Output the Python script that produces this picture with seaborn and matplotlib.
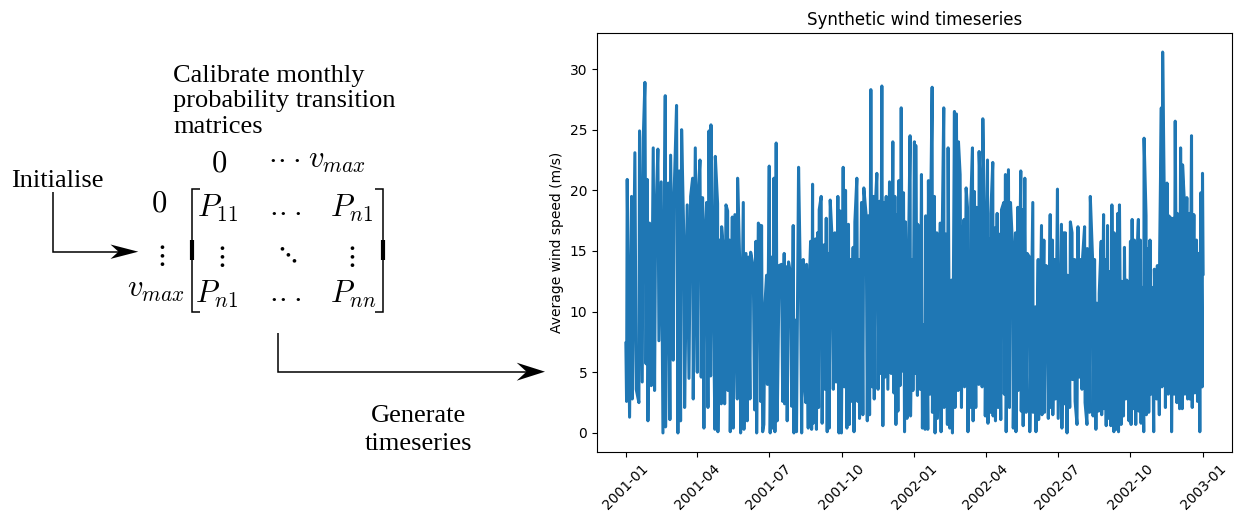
import matplotlib
matplotlib.use("Agg")
import numpy as np
import pandas as pd
import matplotlib.pyplot as plt
import matplotlib.dates as mdates
from matplotlib.patches import Polygon
import seaborn as sns

# ---------------- data ----------------
start_date = "2001-01-01"
title = "Synthetic wind timeseries"
ylabel = "Average wind speed (m/s)"
tick_months = [1, 4, 7, 10]

# local maxima of the hourly series: days since start, speed (m/s)
peak_day = [1.7, 7.2, 11.4, 17.3, 22.0, 24.1, 27.0, 30.0, 34.6, 37.6, 40.5, 44.7, 49.8, 53.6, 56.6, 60.8,
            64.1, 67.5, 70.5, 73.4, 77.6, 81.9, 84.4, 87.8, 91.1, 93.7, 97.0, 100.0, 102.1, 105.1, 107.6,
            109.7, 113.1, 116.0, 118.5, 121.1, 124.0, 126.6, 128.7, 131.2, 134.6, 137.9, 141.3, 144.3,
            148.5, 151.9, 154.8, 157.8, 161.1, 164.5, 167.5, 169.6,
            171.6, 175.8, 177.9, 181.3, 184.6, 187.2, 190.1, 193.9, 196.9, 200.2, 203.2, 205.7, 208.3,
            211.6, 214.6, 218.4, 220.9, 224.3, 228.5, 231.4, 233.6, 236.1, 239.9, 242.4, 244.5, 247.0,
            250.4, 253.4, 255.9, 258.4, 260.5, 264.3, 268.1, 271.0, 274.8, 277.8, 281.5, 283.7, 287.4,
            289.6, 292.1, 294.6, 298.0, 300.9, 303.9, 306.8, 309.8, 313.2, 314.9, 317.4, 320.8, 323.7,
            326.2, 329.2, 333.4, 337.6, 340.2, 342.7, 345.2, 348.2, 351.1, 353.6, 357.5,
            359.4, 362.4, 364.9, 366.6, 369.1, 371.6, 373.8, 376.3, 379.2, 382.6, 385.1, 387.3, 390.2,
            393.2, 397.4, 399.5, 402.0, 404.5, 407.5, 411.7, 415.5, 418.0, 420.6, 422.7, 425.6, 427.7,
            430.3, 432.0, 434.1, 436.2, 438.3, 440.8, 443.3, 446.7, 448.8, 451.4, 453.9, 457.3, 459.4,
            461.5, 464.0, 466.6, 469.5, 471.6, 475.0, 477.9, 480.0, 483.8, 486.4, 489.3, 492.7, 495.6,
            499.4, 502.0, 504.5, 507.5, 510.4, 514.6, 518.0, 521.4, 525.6, 528.6, 531.5, 533.6, 536.6,
            539.5, 542.0, 545.8,
            550.8, 553.7, 555.8, 558.7, 562.1, 564.2, 567.5, 571.7, 575.1, 577.6, 580.1, 583.5, 587.3,
            590.2, 592.7, 595.7, 598.6, 601.1, 604.1, 606.2, 609.1, 611.6, 614.6, 617.5, 620.0, 622.1,
            624.2, 627.2, 630.5, 633.5, 635.6, 638.1, 640.2, 643.1, 645.6, 648.1, 650.7, 652.8, 655.3,
            657.8, 660.3, 662.8, 665.4, 668.3, 672.1, 675.0, 677.1, 678.8, 681.7, 684.3, 686.4, 689.3,
            692.2, 694.7, 697.3, 699.8, 701.5, 704.0, 706.5, 709.4, 712.4, 715.3, 718.3, 721.6, 724.5,
            727.1, 729.2]
peak_speed = [20.9, 19.5, 23.1, 24.9, 24.3, 28.9, 20.9, 17.3, 23.5, 17.0, 23.4, 20.7, 27.8, 20.6, 22.9, 19.2,
              27.0, 21.6, 25.0, 15.7, 18.8, 19.5, 21.0, 23.5, 19.2, 22.5, 19.4, 16.2, 19.0, 24.9, 25.4,
              16.2, 22.8, 18.9, 15.9, 17.0, 14.5, 18.8, 18.3, 15.9, 17.8, 18.0, 21.0, 13.2,
              19.0, 14.8, 14.5, 14.9, 13.7, 15.8, 17.3, 17.0,
              17.1, 10.5, 13.0, 22.0, 14.5, 21.0, 23.9, 13.8, 13.9, 14.8, 13.7, 14.1, 13.1,
              17.1, 9.3, 21.9, 11.9, 14.3, 13.9, 11.1, 15.8, 20.5, 16.0, 16.5, 18.4, 19.5,
              15.5, 17.7, 14.8, 19.2, 16.4, 16.5, 19.5, 18.3, 21.9, 20.0, 17.2, 14.3, 15.3,
              17.4, 21.0, 14.3, 19.0, 20.2, 17.9, 17.9, 28.3, 19.5, 17.9, 21.4, 19.1, 28.6,
              19.0, 19.5, 20.7, 24.0, 19.5, 18.0, 20.8, 26.8, 19.8, 17.4, 15.3,
              24.5, 14.3, 24.0, 23.7, 17.2, 16.4, 21.3, 8.9, 17.9, 20.8, 16.4, 28.5, 19.5,
              16.5, 17.3, 13.4, 26.8, 16.4, 23.5, 12.6, 26.5, 26.3, 24.0, 21.3, 16.3, 17.6,
              20.2, 18.6, 14.9, 19.0, 23.5, 19.9, 18.6, 23.2, 18.7, 25.9, 15.0, 22.5, 16.0,
              18.1, 22.3, 16.9, 18.1, 16.4, 18.4, 19.0, 21.3, 21.7, 19.0, 14.9, 16.5, 18.6,
              21.6, 18.4, 21.0, 14.8, 14.5, 19.0, 10.4, 14.3, 17.1, 15.9, 13.8, 13.1, 18.0,
              15.9, 14.3, 20.1,
              17.2, 16.5, 16.5, 13.0, 17.4, 16.5, 14.3, 17.0, 14.3, 14.5, 17.0, 15.2, 19.5,
              14.3, 14.3, 10.7, 11.5, 15.8, 18.0, 14.3, 17.1, 13.3, 18.8, 16.5, 14.3, 18.1,
              18.8, 12.5, 15.3, 12.6, 11.7, 15.8, 17.6, 15.9, 12.6, 17.6, 15.9, 12.0, 24.3,
              17.9, 15.2, 15.9, 12.0, 13.5, 13.8, 14.8, 26.8, 31.4, 14.5, 20.6, 17.9, 17.7,
              17.7, 25.7, 18.1, 16.4, 23.5, 22.1, 18.7, 19.4, 18.1, 24.5, 18.0, 15.9, 14.8,
              19.8, 21.4]

# local minima of the hourly series: days since start, speed (m/s)
trough_day = [0.0, 0.9, 4.7, 8.1, 13.1, 16.5, 20.7, 25.5, 27.9, 32.1, 36.3, 41.8, 46.9, 50.2, 55.7, 59.9,
              65.8, 69.2, 74.3, 79.8, 85.2, 90.3, 95.3, 98.7, 103.8, 107.2, 112.6, 116.4, 120.7, 124.9,
              129.1, 132.0, 135.8, 140.9, 145.1, 149.3, 153.5, 156.9, 162.8, 165.4, 170.5,
              173.0, 174.5, 179.0, 182.5, 185.8, 188.5, 191.4, 198.3, 200.7, 204.0, 209.7, 212.5, 215.8,
              222.3, 225.8, 227.6, 230.6, 234.9, 236.9, 241.0, 243.7, 248.2, 251.8, 254.6, 257.2, 262.3,
              265.9, 269.5, 272.6, 276.2, 279.5, 282.5, 284.9, 288.5, 293.3, 295.5, 299.7, 305.3, 308.2,
              311.5, 314.1, 318.9, 322.2, 325.0, 327.7, 331.3, 335.5, 338.9, 341.5, 344.0, 346.7, 349.7,
              352.4, 355.5,
              360.0, 363.0, 365.7, 368.7, 372.2, 375.0, 378.4, 381.8, 384.7, 387.7, 391.0, 394.0, 398.6,
              402.4, 406.6, 409.6, 413.0, 416.3, 420.1, 424.4, 428.3, 432.6, 435.3, 439.1, 442.5, 446.3,
              450.5, 454.5, 457.9, 461.1, 464.4, 467.4, 470.8, 474.1, 478.5, 480.9, 485.1, 489.9, 493.3,
              496.1, 500.0, 502.4, 506.2, 510.8, 515.0, 518.6, 522.0, 526.2, 529.4, 534.2, 537.0, 539.9,
              543.3, 546.7,
              551.4, 554.3, 557.9, 561.3, 564.8, 568.1, 570.5, 573.8, 576.8, 580.7, 583.1, 586.4, 590.8,
              594.4, 597.8, 601.7, 604.5, 607.4, 610.4, 613.3, 617.1, 620.6, 623.0, 626.3, 629.3, 632.2,
              636.2, 638.9, 641.8, 644.8, 648.7, 651.5, 654.9, 658.2, 661.2, 664.1, 667.5, 671.2, 674.6,
              677.9, 682.3, 685.9, 690.1, 693.5, 696.8, 700.2, 703.6, 706.9, 710.3, 713.2, 716.2, 719.5,
              722.9, 725.8, 728.8, 730.0]
trough_speed = [7.4, 2.6, 1.3, 2.8, 3.6, 2.5, 4.2, 5.7, 1.0, 3.9, 3.5, 7.6, 0.0, 0.5, 1.1, 6.0,
                0.0, 1.0, 2.1, 4.5, 2.8, 5.0, 4.6, 0.4, 2.1, 4.7, 0.3, 0.1, 2.4, 2.4,
                3.5, 0.1, 0.4, 2.8, 0.0, 0.3, 1.0, 2.8, 1.9, 0.0, 2.6,
                0.1, 0.7, 4.0, 0.0, 0.4, 0.1, 1.0, 2.6, 2.4, 1.0, 2.2, 0.0, 0.1,
                0.0, 4.2, 2.5, 0.4, 0.3, 0.8, 0.3, 2.1, 0.8, 3.6, 0.1, 0.4, 3.6,
                4.2, 0.0, 0.0, 3.8, 0.4, 0.7, 2.6, 0.1, 2.6, 1.2, 1.5, 1.0, 1.5,
                3.8, 2.8, 3.6, 4.9, 0.6, 4.6, 3.6, 4.9, 3.3, 0.7, 1.8, 3.9, 5.1,
                0.1, 1.2,
                1.4, 3.5, 4.9, 3.1, 3.6, 0.4, 0.3, 0.3, 3.2, 1.7, 0.0, 1.2, 0.1,
                2.1, 0.7, 0.4, 0.0, 2.1, 3.5, 2.1, 3.8, 0.1, 2.1, 1.0, 2.1, 4.0,
                3.8, 1.4, 0.8, 1.7, 1.4, 1.0, 2.1, 1.1, 3.2, 0.1, 2.1, 0.4, 0.1,
                3.5, 1.8, 0.6, 1.7, 0.1, 1.7, 0.1, 1.1, 1.5, 1.7, 1.2, 2.1, 1.5,
                2.8, 1.2,
                0.4, 2.4, 0.0, 2.1, 4.4, 2.6, 0.7, 4.6, 3.6, 2.5, 0.7, 1.7, 1.4,
                0.3, 1.8, 1.5, 2.0, 0.6, 1.2, 0.6, 0.1, 0.3, 0.1, 0.7, 1.4, 2.8,
                1.0, 0.7, 2.0, 0.7, 1.8, 0.8, 0.1, 1.5, 1.7, 3.2, 0.1, 2.8, 1.5,
                3.8, 2.1, 3.2, 0.1, 3.2, 2.5, 2.0, 2.0, 3.2, 2.8, 2.8, 2.1, 3.3,
                2.6, 0.1, 3.8, 13.1]

# ---------------- figure ----------------
W, H = 1234, 521
fig = plt.figure(figsize=(W / 100, H / 100), dpi=100)
plt.rcParams["mathtext.fontset"] = "cm"

# overlay axes in pixel coordinates for the diagram
ax0 = fig.add_axes([0, 0, 1, 1])
ax0.set_xlim(0, W)
ax0.set_ylim(H, 0)
ax0.axis("off")

ax = fig.add_axes([597 / W, 1 - 452 / H, (1232 - 597) / W, (452 - 33) / H])

df = pd.DataFrame({"day": peak_day + trough_day, "speed": peak_speed + trough_speed})
df = df.sort_values("day", kind="stable").reset_index(drop=True)
df["time"] = pd.Timestamp(start_date) + pd.to_timedelta(df["day"], unit="D")

sns.lineplot(data=df, x="time", y="speed", ax=ax, estimator=None, sort=False,
             color="#1f77b4", linewidth=2.2)
ax.xaxis.set_major_locator(mdates.MonthLocator(bymonth=tick_months))
ax.xaxis.set_major_formatter(mdates.DateFormatter("%Y-%m"))
plt.setp(ax.get_xticklabels(), rotation=45)
ax.set_xlabel("")
ax.set_ylabel(ylabel)
ax.set_title(title)

# ---------------- diagram ----------------
serif = "Liberation Serif"
TS = 19
MS = 22
ax0.text(173, 81.7, "Calibrate monthly", fontsize=TS, family=serif, va="baseline")
ax0.text(173, 107.3, "probability transition", fontsize=TS, family=serif, va="baseline")
ax0.text(173, 133.3, "matrices", fontsize=TS, family=serif, va="baseline")
ax0.text(11, 186.7, "Initialise", fontsize=TS, family=serif, va="baseline")
ax0.text(418.5, 421.7, "Generate", fontsize=TS, family=serif, va="baseline", ha="center")
ax0.text(418, 450.5, "timeseries", fontsize=TS, family=serif, va="baseline", ha="center")

def m(x, y, s, ha="center", size=MS):
    ax0.text(x, y, s, fontsize=size, va="baseline", ha=ha)

CD = r"$\cdot\!\cdot\!\cdot$"
VS = 21
m(219, 171.7, r"$0$")
m(284, 166, CD)
m(308, 168.3, r"$v_{max}$", ha="left")
m(159, 211.7, r"$0$")
m(160, 263, r"$\vdots$", size=VS)
m(185, 297, r"$v_{max}$", ha="right")
m(197, 217, r"$P_{11}$", ha="left")
m(285, 219, CD)
m(330, 217, r"$P_{n1}$", ha="left")
m(220, 264, r"$\vdots$", size=VS)
m(286, 262, r"$\ddots$", size=VS)
m(350, 264, r"$\vdots$", size=VS)
m(195, 303, r"$P_{n1}$", ha="left")
m(285, 305, CD)
m(330, 303, r"$P_{nn}$", ha="left")

lk = dict(color="black", lw=1.1, solid_capstyle="butt", solid_joinstyle="miter")
# brackets
ax0.plot([200, 191.5, 191.5, 200], [189.3, 189.3, 311.7, 311.7], **lk)
ax0.plot([191.5, 191.5], [240, 260], color="black", lw=3, solid_capstyle="butt")
ax0.plot([375, 383.3, 383.3, 375], [189.3, 189.3, 311.7, 311.7], **lk)
ax0.plot([383.3, 383.3], [240, 260], color="black", lw=3, solid_capstyle="butt")

# arrows
ax0.plot([53.3, 53.3, 122], [191.7, 251.7, 251.7], **lk)
ax0.add_patch(Polygon([[138.3, 251.7], [110.5, 244.5], [118.5, 251.7], [110.5, 258.9]],
                      closed=True, color="black", lw=0))
ax0.plot([278.3, 278.3, 530], [333.3, 371.7, 371.7], **lk)
ax0.add_patch(Polygon([[545, 371.7], [516.7, 362.7], [526.5, 371.7], [516.7, 380.7]],
                      closed=True, color="black", lw=0))

fig.savefig("out.png", dpi=100)
